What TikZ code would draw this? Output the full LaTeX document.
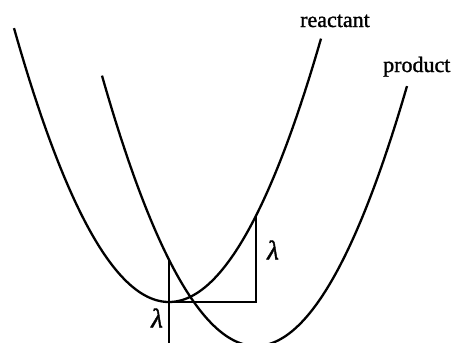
\documentclass[tikz,border=0pt]{standalone}
\usepackage{fontspec}
\setmainfont{Liberation Serif}[FakeBold=1.2]
\newfontfamily\lamfont{Liberation Serif}[FakeBold=1.5]
\begin{document}
\begin{tikzpicture}[x=1pt,y=-1pt,
  curve/.style={line width=2.3pt},
  guide/.style={line width=2.3pt},
  lbl/.style={inner sep=0pt,font=\fontsize{22}{26}\selectfont},
  lam/.style={inner sep=0pt,font=\fontsize{27}{30}\selectfont\lamfont\itshape}]
\useasboundingbox (0,0) rectangle (456,343);
\clip (0,0) rectangle (456,343);
% reactant parabola: vertex (169,302)
\draw[curve] plot[domain=14:321,samples=120,smooth] ({\x},{302-114*((\x-169)/100)*((\x-169)/100)});
% product parabola: vertex (256,346)
\draw[curve] plot[domain=102:407,samples=120,smooth] ({\x},{346-114*((\x-256)/100)*((\x-256)/100)});
\coordinate (rmin) at (169,302);
\coordinate (corner) at (256,302);
\coordinate (rtop) at (256,{302-114*0.87*0.87});
\coordinate (ptop) at (169,{346-114*0.87*0.87});
\coordinate (bot) at (169,345);
\draw[guide] (ptop) -- (bot);
\draw[guide] (rmin) -- (corner) -- (rtop);
\node[lbl,anchor=base west] (reactant) at (300,27) {reactant};
\node[lbl,anchor=base west] (product) at (383,72) {product};
\node[lam] (lam1) at (273,250) {λ};
\node[lam] (lam2) at (157,318) {λ};
\end{tikzpicture}
\end{document}
